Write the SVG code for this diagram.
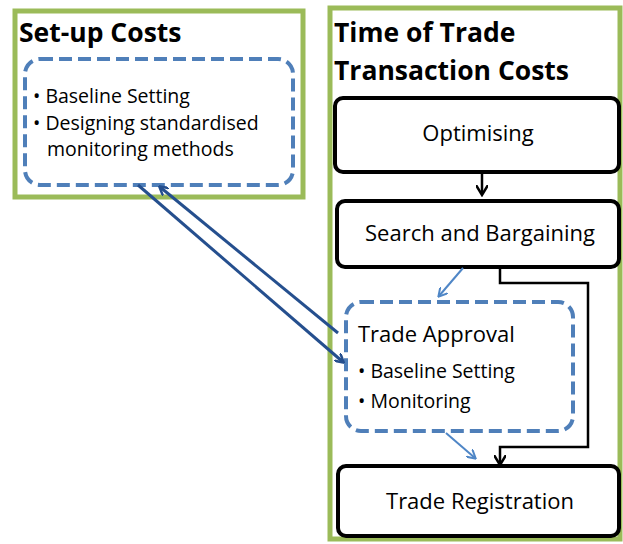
<svg xmlns="http://www.w3.org/2000/svg" width="623" height="544" viewBox="0 0 623 544">
<defs>
<style>
.grp{fill:#fff;stroke:#9bbb59;stroke-width:5}
.dash{fill:#fff;stroke:#4f7fb9;stroke-width:4;stroke-dasharray:13 6}
.box{fill:#fff;stroke:#000;stroke-width:4}
.t{font-family:"Open Sans","Liberation Sans",sans-serif;fill:#000}
.h{font-size:26.5px;font-weight:bold}
.n{font-size:22px}
.b{font-size:19.5px}
.dk{stroke:#254f8e;stroke-width:3;fill:none}
.lt{stroke:#4f86c6;stroke-width:2;fill:none}
.bk{stroke:#000;stroke-width:2.5;fill:none}
</style>
<marker id="mdk" markerWidth="10" markerHeight="10" refX="8" refY="5" orient="auto" markerUnits="userSpaceOnUse"><path d="M0,0 L9,5 L0,10" fill="none" stroke="#254f8e" stroke-width="2.5"/></marker>
<marker id="mlt" markerWidth="10" markerHeight="10" refX="8" refY="5" orient="auto" markerUnits="userSpaceOnUse"><path d="M0,0 L9,5 L0,10" fill="none" stroke="#4f86c6" stroke-width="2"/></marker>
<marker id="mbk" markerWidth="12" markerHeight="12" refX="9" refY="6" orient="auto" markerUnits="userSpaceOnUse"><path d="M0,0 L10,6 L0,12" fill="none" stroke="#000" stroke-width="2.5"/></marker>
</defs>
<rect width="623" height="544" fill="#fff"/>
<g id="setup">
<rect class="grp" x="15" y="11" width="288" height="186"/>
<text class="t h" x="19" y="42">Set-up Costs</text>
<rect class="dash" x="25" y="59" width="268" height="126" rx="15"/>
<text class="t b" x="33" y="103">• Baseline Setting</text>
<text class="t b" x="33" y="130">• Designing standardised</text>
<text class="t b" x="47" y="156">monitoring methods</text>
</g>
<g id="time">
<rect class="grp" x="330" y="8" width="290" height="531"/>
<text class="t h" x="334" y="42">Time of Trade</text>
<text class="t h" x="334" y="80">Transaction Costs</text>
</g>
<g id="optimising">
<rect class="box" x="335" y="98" width="284" height="74" rx="8"/>
<text class="t n" x="478" y="141" text-anchor="middle">Optimising</text>
</g>
<g id="search">
<rect class="box" x="337" y="201" width="282" height="66" rx="8"/>
<text class="t n" x="480" y="241" text-anchor="middle">Search and Bargaining</text>
</g>
<g id="approval">
<rect class="dash" x="346" y="302" width="227" height="129" rx="15"/>
<text class="t" x="358" y="342" font-size="22">Trade Approval</text>
<text class="t b" x="358" y="378">• Baseline Setting</text>
<text class="t b" x="358" y="408">• Monitoring</text>
</g>
<g id="registration">
<rect class="box" x="338" y="466" width="281" height="70" rx="8"/>
<text class="t n" x="480" y="509" text-anchor="middle">Trade Registration</text>
</g>
<g id="connectors">
<line class="bk" x1="482" y1="174" x2="482" y2="194" marker-end="url(#mbk)"/>
<polyline class="bk" points="500,268 500,283 588,283 588,447 500,447 500,464" marker-end="url(#mbk)"/>
<line class="lt" x1="463" y1="268" x2="439" y2="296" marker-end="url(#mlt)"/>
<line class="lt" x1="446" y1="433" x2="475" y2="458" marker-end="url(#mlt)"/>
<line class="dk" x1="138" y1="185" x2="343" y2="362" marker-end="url(#mdk)"/>
<line class="dk" x1="338" y1="333" x2="160" y2="187" marker-end="url(#mdk)"/>
</g>
</svg>
